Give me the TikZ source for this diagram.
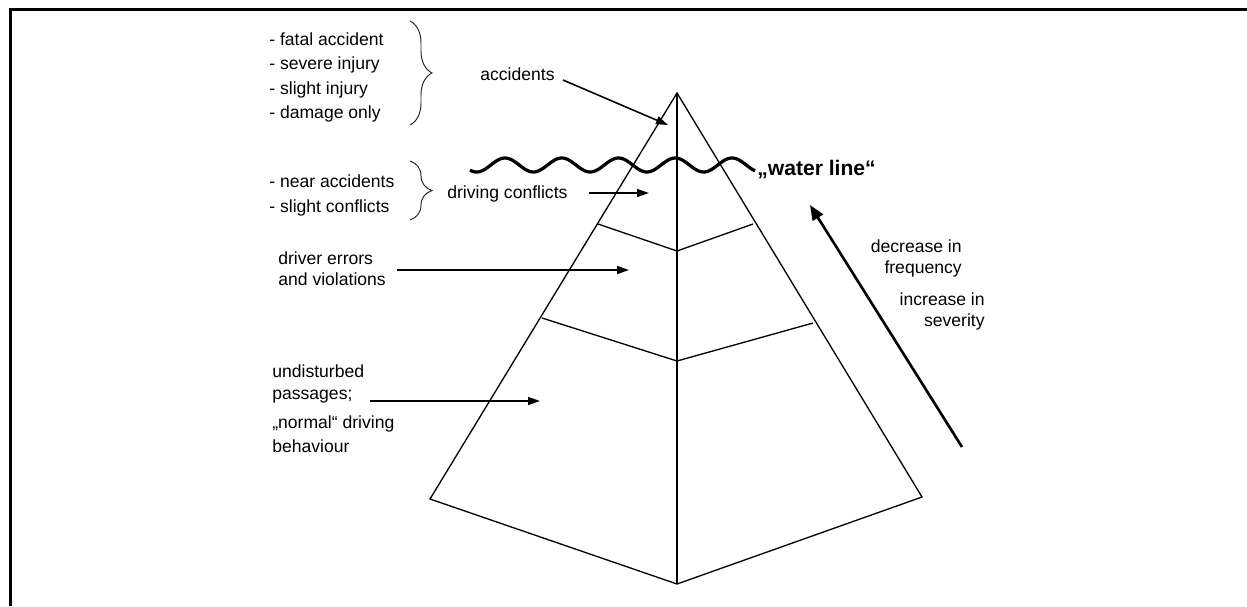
\documentclass[tikz,border=0pt]{standalone}
\usepackage{fontspec}
\setmainfont{Liberation Sans}
\usepackage{tikz}
\usetikzlibrary{arrows.meta,decorations.pathreplacing}

\begin{document}
\begin{tikzpicture}[x=0.02cm,y=-0.02cm,
	txt/.style={inner sep=0pt,font=\fontsize{10}{12}\selectfont},
	pyr/.style={line width=0.75pt,line join=miter},
	ptr/.style={line width=0.9pt,-{Triangle[length=0.24cm,width=0.16cm]}},
	bigptr/.style={line width=1.5pt,-{Triangle[length=0.3cm,width=0.24cm]}},
	brc/.style={line width=0.55pt,black!85,decorate,decoration={brace,amplitude=0.44cm}}]
	\useasboundingbox (0,0) rectangle (1247,606);
	% Frame
	\draw[line width=0.05cm] (10.5,606) -- (10.5,9.5) -- (1247,9.5);

	% Pyramid
	\coordinate (top) at (677,93);
	\coordinate (baseL) at (430,499);
	\coordinate (baseM) at (677,584);
	\coordinate (baseR) at (922,497);
	\coordinate (lvlAL) at (598,224);
	\coordinate (lvlAM) at (677,251);
	\coordinate (lvlAR) at (753,224);
	\coordinate (lvlBL) at (542,318);
	\coordinate (lvlBM) at (677,361);
	\coordinate (lvlBR) at (813,323);
	\draw[pyr] (baseL) -- (top) -- (baseR) -- (baseM) -- cycle;
	\draw[pyr] (top) -- (baseM);
	\draw[pyr] (lvlAL) -- (lvlAM) -- (lvlAR);
	\draw[pyr] (lvlBL) -- (lvlBM) -- (lvlBR);

	% Water line
	\draw[line width=0.065cm] plot[domain=470:755,samples=150,smooth] (\x,{165-7*cos((\x-505)/56.75*360)});
	\node[txt,anchor=base west,font=\bfseries\fontsize{12}{14}\selectfont] (waterlbl) at (757,175) {„water line“};

	% Braces and lists
	\node[txt,anchor=base west,align=left,font=\fontsize{10}{13.9}\selectfont] (outcomes) at (269,118.5) {- fatal accident\\- severe injury\\- slight injury\\- damage only};
	\node[txt,anchor=base west,align=left,font=\fontsize{10}{14.2}\selectfont] (nearmiss) at (269,212) {- near accidents\\- slight conflicts};
	\coordinate (braceAtop) at (410,21);
	\coordinate (braceAbot) at (410,125);
	\coordinate (braceBtop) at (410,161);
	\coordinate (braceBbot) at (410,220);
	\draw[brc] (braceAtop) -- (braceAbot);
	\draw[brc] (braceBtop) -- (braceBbot);

	% Level labels
	\node[txt,anchor=base west] (acclbl) at (480,80) {accidents};
	\node[txt,anchor=base west] (conflbl) at (447,198) {driving conflicts};
	\node[txt,anchor=base west,align=left,font=\fontsize{10}{11.4}\selectfont] (errlbl) at (278,285) {driver errors\\and violations};
	\node[txt,anchor=base west,align=left,font=\fontsize{10}{12.5}\selectfont] (undlbl) at (272,399) {undisturbed\\passages;};
	\node[txt,anchor=base west,align=left,font=\fontsize{10}{13.6}\selectfont] (normlbl) at (272,452) {„normal“ driving\\behaviour};

	% Pointers into the pyramid
	\coordinate (accTail) at (563,80);
	\coordinate (accTip) at (668,125);
	\coordinate (confTail) at (589,193);
	\coordinate (confTip) at (649,193);
	\coordinate (errTail) at (397,270);
	\coordinate (errTip) at (629,270);
	\coordinate (undTail) at (370,401);
	\coordinate (undTip) at (540,401);
	\draw[ptr] (accTail) -- (accTip);
	\draw[ptr] (confTail) -- (confTip);
	\draw[ptr] (errTail) -- (errTip);
	\draw[ptr] (undTail) -- (undTip);

	% Trend arrow
	\coordinate (trendTail) at (962,447);
	\coordinate (trendTip) at (810,205);
	\draw[bigptr] (trendTail) -- (trendTip);
	\node[txt,anchor=base east,align=right,font=\fontsize{10}{11.9}\selectfont] (freqlbl) at (962,273) {decrease in\\frequency};
	\node[txt,anchor=base east,align=right,font=\fontsize{10}{11.9}\selectfont] (sevlbl) at (985,326) {increase in\\severity};
\end{tikzpicture}
\end{document}
